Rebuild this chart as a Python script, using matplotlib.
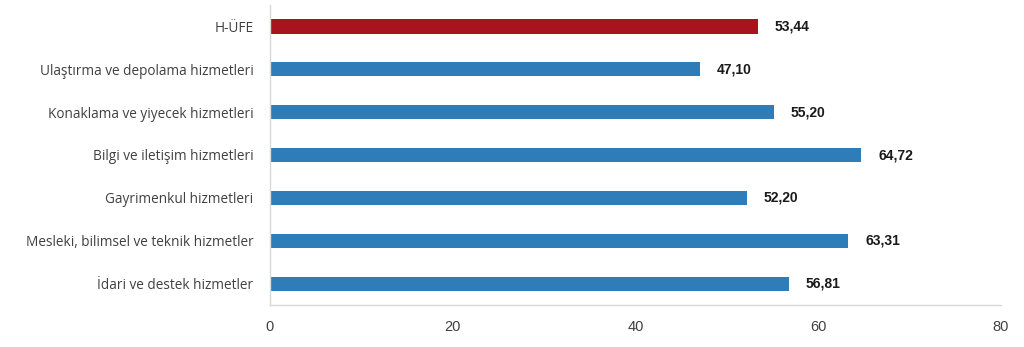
import matplotlib
matplotlib.use("Agg")
import matplotlib.pyplot as plt

categories = ["H-ÜFE", "Ulaştırma ve depolama hizmetleri", "Konaklama ve yiyecek hizmetleri",
              "Bilgi ve iletişim hizmetleri", "Gayrimenkul hizmetleri",
              "Mesleki, bilimsel ve teknik hizmetler", "İdari ve destek hizmetler"]
values = [53.44, 47.10, 55.20, 64.72, 52.20, 63.31, 56.81]
value_labels = ["53,44", "47,10", "55,20", "64,72", "52,20", "63,31", "56,81"]
xticks = [0, 20, 40, 60, 80]

colors = ["#A8141D"] + ["#2F7DB8"] * (len(categories) - 1)

fig = plt.figure(figsize=(10.24, 3.47), dpi=100)
ax = fig.add_axes([270/1024, 1-305/347, 731/1024, 300/347])

y = list(range(len(categories)))
ax.barh(y, values, height=0.33, color=colors)
ax.set_ylim(len(categories) - 0.5, -0.5)
ax.set_xlim(0, 80)
ax.set_xticks(xticks)
ax.set_xticklabels([str(t) for t in xticks], fontsize=10.5, color="#404040", family="Liberation Sans")
ax.set_yticks(y)
ax.set_yticklabels(categories, fontsize=9.8, color="#404040", family="Open Sans")
ax.tick_params(axis="both", length=0)
ax.tick_params(axis="y", pad=12)
ax.tick_params(axis="x", pad=11)

for s in ["top", "right"]:
    ax.spines[s].set_visible(False)
for s in ["left", "bottom"]:
    ax.spines[s].set_color("#D9D9D9")
    ax.spines[s].set_linewidth(1)

for yi, v, lab in zip(y, values, value_labels):
    ax.annotate(lab, (v, yi), xytext=(12, 0), textcoords="offset points",
                va="center", ha="left", fontsize=10, fontweight="bold",
                color="#1a1a1a", family="Liberation Sans")

fig.savefig("out.png", dpi=100, facecolor="white")
